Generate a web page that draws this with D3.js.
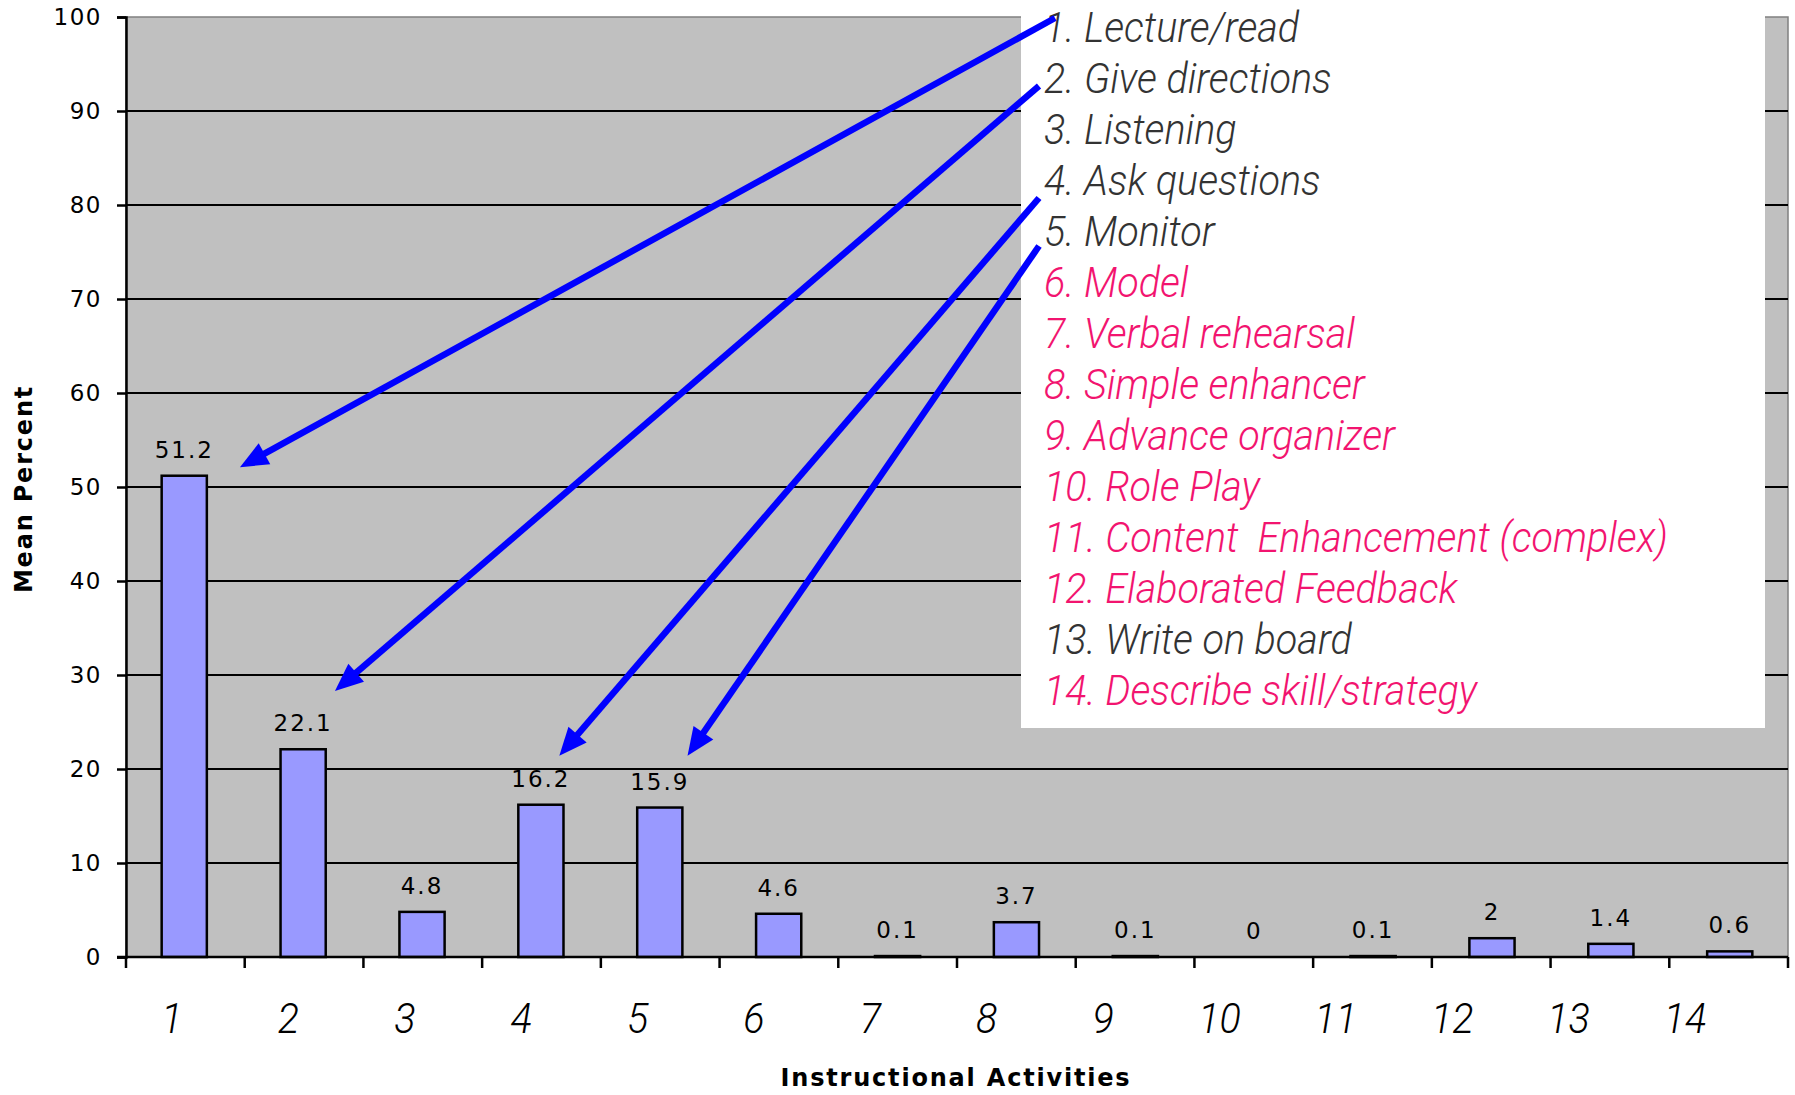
<!DOCTYPE html>
<html>
<head>
<meta charset="utf-8">
<script src="https://cdn.jsdelivr.net/npm/d3@7"></script>
<style>
  html, body { margin: 0; padding: 0; background: #ffffff; }
  svg { display: block; }
  text { white-space: pre; }
</style>
</head>
<body>
<svg id="chart" width="1795" height="1095"></svg>
<script>
// Instructional activity categories (1..14) and their mean percent
const categories = ["1","2","3","4","5","6","7","8","9","10","11","12","13","14"];
const meanPercent = [51.2, 22.1, 4.8, 16.2, 15.9, 4.6, 0.1, 3.7, 0.1, 0, 0.1, 2, 1.4, 0.6];
const valueLabels = ["51.2","22.1","4.8","16.2","15.9","4.6","0.1","3.7","0.1","0","0.1","2","1.4","0.6"];
const yTicks = [0, 10, 20, 30, 40, 50, 60, 70, 80, 90, 100];

// Key to the category numbers
const activityNames = [
  "1. Lecture/read", "2. Give directions", "3. Listening", "4. Ask questions",
  "5. Monitor", "6. Model", "7. Verbal rehearsal", "8. Simple enhancer",
  "9. Advance organizer", "10. Role Play", "11. Content  Enhancement (complex)",
  "12. Elaborated Feedback", "13. Write on board", "14. Describe skill/strategy"
];
const highlighted = [false, false, false, false, false, true, true, true, true, true, true, true, false, true];

// Pointers from key entries to bars: key item, target category position, target value
const pointerItems = [1, 2, 4, 5];
const pointerCat = [1.46, 2.26, 4.15, 5.23];
const pointerValue = [52.1, 28.3, 21.4, 21.4];

const svg = d3.select("#chart");
const plot = { left: 126, right: 1788, top: 17, bottom: 957 };
const narrowFont = "Roboto, 'DejaVu Sans Condensed', sans-serif";

const x = d3.scaleBand().domain(categories).range([plot.left, plot.right])
  .paddingInner(0.62).paddingOuter(0.3);
const y = d3.scaleLinear().domain([0, 100]).range([plot.bottom, plot.top]);
const catPos = d3.scaleLinear().domain([0.5, categories.length + 0.5]).range([plot.left, plot.right]);
const boundary = d3.scaleLinear().domain([0, categories.length]).range([plot.left, plot.right]);
const tickLabelX = d3.scalePoint().domain(categories).range([plot.left + 46, plot.right - 103]);

// plot background
svg.append("rect")
  .attr("x", plot.left).attr("y", y(100))
  .attr("width", plot.right - plot.left).attr("height", y(0) - y(100))
  .attr("fill", "#c0c0c0")
  .attr("stroke", "#808080").attr("stroke-width", 1.5);

// horizontal gridlines
svg.append("g").selectAll("line")
  .data(yTicks.filter(t => t > 0 && t < 100))
  .join("line")
  .attr("x1", plot.left).attr("x2", plot.right)
  .attr("y1", d => y(d)).attr("y2", d => y(d))
  .attr("stroke", "#000").attr("stroke-width", 2);

// y axis
const yAxis = d3.axisLeft(y).tickValues(yTicks).tickSize(9).tickPadding(15).tickFormat(d3.format("d"));
const gy = svg.append("g").attr("transform", `translate(${plot.left},0)`).call(yAxis);
gy.select(".domain").attr("stroke", "#000").attr("stroke-width", 2.5);
gy.selectAll(".tick line").attr("stroke", "#000").attr("stroke-width", 2.5);
gy.selectAll(".tick text")
  .attr("font-family", "'DejaVu Sans', sans-serif")
  .attr("font-size", 23).attr("letter-spacing", 1.5).attr("fill", "#000");

// bars
svg.append("g").selectAll("rect")
  .data(meanPercent)
  .join("rect")
  .attr("x", (d, i) => x(categories[i]))
  .attr("y", d => y(d))
  .attr("width", x.bandwidth())
  .attr("height", d => y(0) - y(d))
  .attr("fill", "#9999ff")
  .attr("stroke", "#000").attr("stroke-width", 2.5);

// value labels
svg.append("g").selectAll("text")
  .data(meanPercent)
  .join("text")
  .attr("x", (d, i) => x(categories[i]) + x.bandwidth() / 2)
  .attr("y", d => y(d) - 18)
  .attr("text-anchor", "middle")
  .attr("font-family", "'DejaVu Sans', sans-serif")
  .attr("font-size", 23).attr("letter-spacing", 2)
  .attr("fill", "#000")
  .text((d, i) => valueLabels[i]);

// x axis line and tick marks at category boundaries
svg.append("line")
  .attr("x1", plot.left - 9).attr("x2", plot.right)
  .attr("y1", y(0)).attr("y2", y(0))
  .attr("stroke", "#000").attr("stroke-width", 2.5);
svg.append("g").selectAll("line")
  .data(d3.range(categories.length + 1))
  .join("line")
  .attr("x1", d => boundary(d)).attr("x2", d => boundary(d))
  .attr("y1", y(0)).attr("y2", y(0) + 11)
  .attr("stroke", "#000").attr("stroke-width", 2.5);

// condensed text: measure once, then squeeze horizontally
const probe = svg.append("text")
  .attr("font-family", narrowFont).attr("font-style", "italic")
  .attr("font-weight", 300).attr("font-size", 42)
  .text(activityNames[10]);
const squeeze = Math.min(1, 624 / probe.node().getComputedTextLength());
probe.remove();

// category numbers
svg.append("g").selectAll("text")
  .data(categories)
  .join("text")
  .attr("transform", d => `translate(${tickLabelX(d)},${y(0) + 76}) scale(${squeeze},1)`)
  .attr("text-anchor", "middle")
  .attr("font-family", narrowFont)
  .attr("font-style", "italic")
  .attr("font-weight", 300)
  .attr("font-size", 42)
  .attr("fill", "#000")
  .text(d => d);

// axis titles
svg.append("text")
  .attr("x", 956).attr("y", 1086)
  .attr("text-anchor", "middle")
  .attr("font-family", "'DejaVu Sans', sans-serif")
  .attr("font-weight", "bold").attr("font-size", 24).attr("letter-spacing", 1.8)
  .attr("fill", "#000")
  .text("Instructional Activities");
svg.append("text")
  .attr("transform", `translate(32,${(plot.top + plot.bottom) / 2 + 2}) rotate(-90)`)
  .attr("text-anchor", "middle")
  .attr("font-family", "'DejaVu Sans', sans-serif")
  .attr("font-weight", "bold").attr("font-size", 24).attr("letter-spacing", 1.8)
  .attr("fill", "#000")
  .text("Mean Percent");

// key box
const key = { left: 1021, right: 1765, top: 0, bottom: 728, textX: 1044, firstBaseline: 42, lineStep: 51 };
svg.append("rect")
  .attr("x", key.left).attr("y", key.top)
  .attr("width", key.right - key.left).attr("height", key.bottom - key.top)
  .attr("fill", "#ffffff");
svg.append("g").selectAll("text")
  .data(activityNames)
  .join("text")
  .attr("transform", (d, i) => `translate(${key.textX},${key.firstBaseline + i * key.lineStep}) scale(${squeeze},1)`)
  .attr("font-family", narrowFont)
  .attr("font-style", "italic")
  .attr("font-weight", 300)
  .attr("font-size", 42)
  .attr("fill", (d, i) => highlighted[i] ? "#f2146f" : "#333333")
  .text(d => d);

// blue pointers from key entries to bars
const startOffsets = { 1: [11, -24], 2: [-5, -7], 4: [-5, 3], 5: [-5, 0] };
const headLen = 28, headHalf = 12;
const pg = svg.append("g");
pointerItems.forEach((item, i) => {
  const off = startOffsets[item];
  const sx = key.textX + off[0];
  const sy = key.firstBaseline + (item - 1) * key.lineStep + off[1];
  const tx = catPos(pointerCat[i]);
  const ty = y(pointerValue[i]);
  const dx = tx - sx, dy = ty - sy;
  const len = Math.hypot(dx, dy);
  const ux = dx / len, uy = dy / len;
  const bx = tx - ux * headLen, by = ty - uy * headLen;
  pg.append("line")
    .attr("x1", sx).attr("y1", sy).attr("x2", bx + ux * 2).attr("y2", by + uy * 2)
    .attr("stroke", "#0000ff").attr("stroke-width", 6.5);
  pg.append("path")
    .attr("d", `M${tx},${ty}L${bx - uy * headHalf},${by + ux * headHalf}L${bx + uy * headHalf},${by - ux * headHalf}Z`)
    .attr("fill", "#0000ff");
});
</script>
</body>
</html>
